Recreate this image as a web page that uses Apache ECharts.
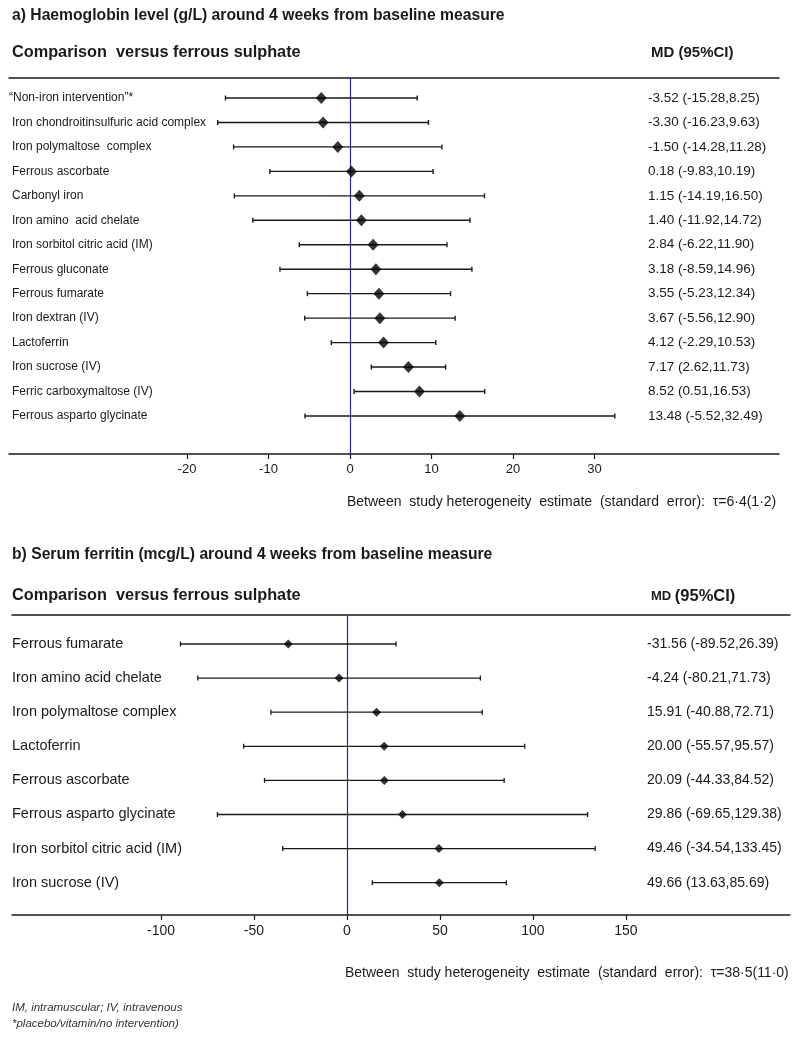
<!DOCTYPE html>
<html>
<head>
<meta charset="utf-8">
<title>Iron formulations versus ferrous sulphate</title>
<script src="https://cdn.jsdelivr.net/npm/echarts@6/dist/echarts.min.js"></script>
<style>
    html, body {margin: 0; padding: 0; background: #fff;}
    #main {width: 800px; height: 1042px;}
</style>
</head>
<body>
<div id="main"></div>
<script>
    // a) haemoglobin (g/L), mean difference vs ferrous sulphate
    var hbNames = ['\u201CNon-iron intervention\u201D*', 'Iron chondroitinsulfuric acid complex', 'Iron polymaltose  complex',
        'Ferrous ascorbate', 'Carbonyl iron', 'Iron amino  acid chelate', 'Iron sorbitol citric acid (IM)',
        'Ferrous gluconate', 'Ferrous fumarate', 'Iron dextran (IV)', 'Lactoferrin', 'Iron sucrose (IV)',
        'Ferric carboxymaltose (IV)', 'Ferrous asparto glycinate'];
    var hbMd = [-3.52, -3.30, -1.50, 0.18, 1.15, 1.40, 2.84, 3.18, 3.55, 3.67, 4.12, 7.17, 8.52, 13.48];
    var hbLow = [-15.28, -16.23, -14.28, -9.83, -14.19, -11.92, -6.22, -8.59, -5.23, -5.56, -2.29, 2.62, 0.51, -5.52];
    var hbHigh = [8.25, 9.63, 11.28, 10.19, 16.50, 14.72, 11.90, 14.96, 12.34, 12.90, 10.53, 11.73, 16.53, 32.49];
    var hbTicks = [-20, -10, 0, 10, 20, 30];

    // b) serum ferritin (mcg/L)
    var sfNames = ['Ferrous fumarate', 'Iron amino acid chelate', 'Iron polymaltose complex', 'Lactoferrin',
        'Ferrous ascorbate', 'Ferrous asparto glycinate', 'Iron sorbitol citric acid (IM)', 'Iron sucrose (IV)'];
    var sfMd = [-31.56, -4.24, 15.91, 20.00, 20.09, 29.86, 49.46, 49.66];
    var sfLow = [-89.52, -80.21, -40.88, -55.57, -44.33, -69.65, -34.54, 13.63];
    var sfHigh = [26.39, 71.73, 72.71, 95.57, 84.52, 129.38, 133.45, 85.69];
    var sfTicks = [-100, -50, 0, 50, 100, 150];

    var FONT = '"Liberation Sans", Arial, sans-serif';
    var INK = '#1a1a1a';
    var ZERO = '#2a2a9a';

    function mdText(m, l, h) {
        return m.toFixed(2) + ' (' + l.toFixed(2) + ',' + h.toFixed(2) + ')';
    }

    // whisker with end caps, row label on the left, MD (95%CI) on the right
    function forest(names, md, opt) {
        return function (params, api) {
            var i = api.value(0);
            var lo = api.coord([api.value(1), i]);
            var hi = api.coord([api.value(2), i]);
            var y = lo[1];
            var line = {stroke: INK, lineWidth: opt.lw};
            return {
                type: 'group',
                children: [
                    {type: 'line', shape: {x1: lo[0], y1: y, x2: hi[0], y2: y}, style: line},
                    {type: 'line', shape: {x1: lo[0], y1: y - opt.cap, x2: lo[0], y2: y + opt.cap}, style: line},
                    {type: 'line', shape: {x1: hi[0], y1: y - opt.cap, x2: hi[0], y2: y + opt.cap}, style: line},
                    {
                        type: 'text', x: opt.labelX + (i === 0 ? opt.firstShift : 0), y: y,
                        style: {text: names[i], font: opt.labelSize + 'px ' + FONT, fill: INK, align: 'left', verticalAlign: 'middle'}
                    },
                    {
                        type: 'text', x: opt.valX, y: y,
                        style: {text: mdText(md[i], api.value(1), api.value(2)), font: opt.valSize + 'px ' + FONT, fill: INK, align: 'left', verticalAlign: 'middle'}
                    }
                ]
            };
        };
    }

    function rows(md, low, high) {
        return md.map(function (m, i) { return [i, low[i], high[i], m]; });
    }

    function points(md) {
        return md.map(function (m, i) { return [m, i]; });
    }

    function bottomAxis(idx, min, max, ticks, fontSize) {
        return {
            gridIndex: idx, type: 'value', position: 'bottom', min: min, max: max,
            axisLine: {show: true, onZero: false, lineStyle: {color: INK, width: 1.5}},
            axisTick: {show: true, customValues: ticks, length: 5, lineStyle: {color: INK, width: 1.2}},
            axisLabel: {show: true, customValues: ticks, color: INK, fontSize: fontSize, fontFamily: FONT, margin: 9},
            splitLine: {show: false}
        };
    }

    function topRule(idx, min, max) {
        return {
            gridIndex: idx, type: 'value', position: 'top', min: min, max: max,
            axisLine: {show: true, onZero: false, lineStyle: {color: INK, width: 1.5}},
            axisTick: {show: false}, axisLabel: {show: false}, splitLine: {show: false}
        };
    }

    var chart = echarts.init(document.getElementById('main'), null, {renderer: 'canvas'});
    window.addEventListener('resize', function () {
        chart.resize();
    });

    function heading(text, left, top, size, weight, extra) {
        var t = {
            text: text, left: left, top: top, padding: 0,
            textStyle: {fontFamily: FONT, fontSize: size, fontWeight: weight, color: INK, lineHeight: size + 4}
        };
        if (extra) {
            for (var k in extra) t.textStyle[k] = extra[k];
        }
        return t;
    }

    chart.setOption({
        animation: false,
        backgroundColor: '#fff',
        title: [
            heading('a) Haemoglobin level (g/L) around 4 weeks from baseline measure', 12, 6, 15.7, 'bold'),
            heading('Comparison  versus ferrous sulphate', 12, 42, 16.3, 'bold'),
            heading('MD (95%CI)', 651, 43, 15, 'bold'),
            heading('Between  study heterogeneity  estimate  (standard  error):  \u03C4=6\u00B74(1\u00B72)', 347, 493, 14, 'normal'),
            heading('b) Serum ferritin (mcg/L) around 4 weeks from baseline measure', 12, 545, 15.7, 'bold'),
            heading('Comparison  versus ferrous sulphate', 12, 585, 16.3, 'bold'),
            {
                text: '{s|MD }{b|(95%CI)}', left: 651, top: 585, padding: 0,
                textStyle: {
                    rich: {
                        s: {fontFamily: FONT, fontSize: 13, fontWeight: 'bold', color: INK, lineHeight: 22},
                        b: {fontFamily: FONT, fontSize: 16.5, fontWeight: 'bold', color: INK, lineHeight: 22}
                    }
                }
            },
            heading('Between  study heterogeneity  estimate  (standard  error):  \u03C4=38\u00B75(11\u00B70)', 345, 964, 14, 'normal'),
            heading('IM, intramuscular; IV, intravenous', 12, 1000, 11.5, 'normal', {fontStyle: 'italic', color: '#333'}),
            heading('*placebo/vitamin/no intervention)', 12, 1016, 11.5, 'normal', {fontStyle: 'italic', color: '#333'})
        ],
        grid: [
            {left: 9, width: 770, top: 78, height: 376},
            {left: 12, width: 778, top: 615, height: 300}
        ],
        xAxis: [
            bottomAxis(0, -41.84, 52.64, hbTicks, 13),
            topRule(0, -41.84, 52.64),
            bottomAxis(1, -180.1, 238.2, sfTicks, 14),
            topRule(1, -180.1, 238.2)
        ],
        yAxis: [
            {gridIndex: 0, type: 'value', inverse: true, min: -0.818, max: 14.555, show: false},
            {gridIndex: 1, type: 'value', inverse: true, min: -0.850, max: 7.947, show: false}
        ],
        series: [
            {
                type: 'custom', xAxisIndex: 0, yAxisIndex: 0, silent: true,
                renderItem: forest(hbNames, hbMd, {lw: 1.4, cap: 2.5, labelX: 12, firstShift: -3, labelSize: 12, valX: 648, valSize: 13.5}),
                encode: {x: [1, 2], y: 0},
                data: rows(hbMd, hbLow, hbHigh),
                z: 3
            },
            {
                type: 'scatter', xAxisIndex: 0, yAxisIndex: 0, silent: true,
                symbol: 'diamond', symbolSize: [11, 12],
                itemStyle: {color: '#000'},
                data: points(hbMd),
                z: 4,
                markLine: {
                    silent: true, symbol: 'none', label: {show: false},
                    lineStyle: {color: ZERO, width: 1.2, type: 'solid'},
                    data: [{xAxis: 0}], z: 2
                }
            },
            {
                type: 'custom', xAxisIndex: 2, yAxisIndex: 1, silent: true,
                renderItem: forest(sfNames, sfMd, {lw: 1.3, cap: 2.5, labelX: 12, firstShift: 0, labelSize: 14.5, valX: 647, valSize: 14}),
                encode: {x: [1, 2], y: 0},
                data: rows(sfMd, sfLow, sfHigh),
                z: 3
            },
            {
                type: 'scatter', xAxisIndex: 2, yAxisIndex: 1, silent: true,
                symbol: 'diamond', symbolSize: [9, 9],
                itemStyle: {color: '#000'},
                data: points(sfMd),
                z: 4,
                markLine: {
                    silent: true, symbol: 'none', label: {show: false},
                    lineStyle: {color: ZERO, width: 1.2, type: 'solid'},
                    data: [{xAxis: 0}], z: 2
                }
            }
        ]
    });
</script>
</body>
</html>
